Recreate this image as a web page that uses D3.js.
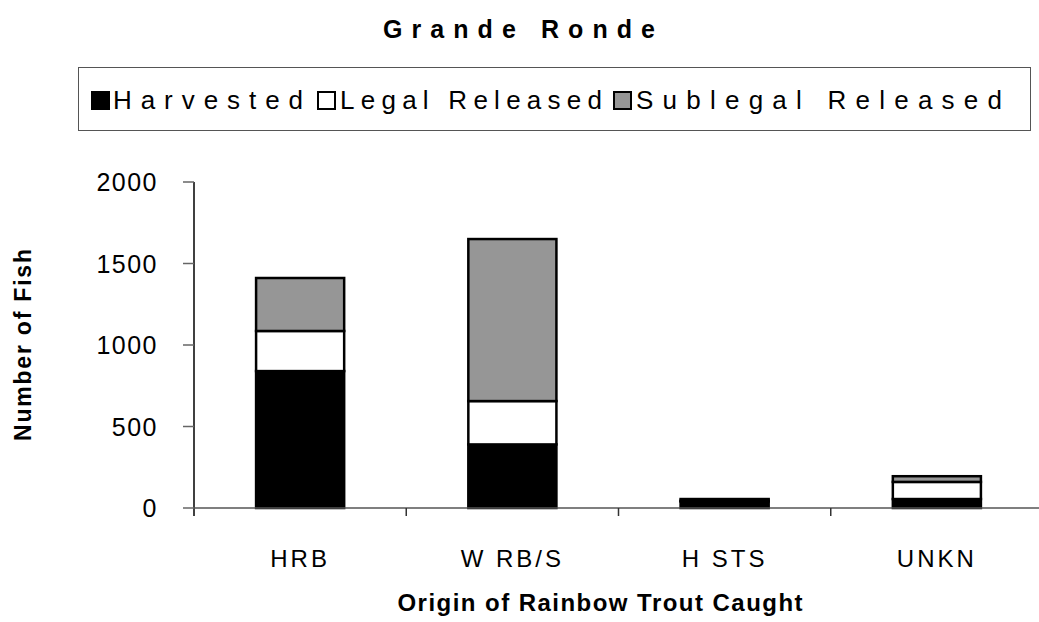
<!DOCTYPE html>
<html>
<head>
<meta charset="utf-8">
<script src="https://cdn.jsdelivr.net/npm/d3@7"></script>
<style>
  body { margin: 0; background: #fff; }
  text { font-family: "Liberation Sans", Arial, sans-serif; }
</style>
</head>
<body>
<div id="chart"></div>
<script>
// values
const categories = ["HRB", "W RB/S", "H STS", "UNKN"];
const harvested = [840, 390, 40, 55];
const legalReleased = [246, 266, 5, 105];
const sublegalReleased = [325, 994, 10, 35];
const seriesNames = ["Harvested", "Legal Released", "Sublegal Released"];
const seriesColors = ["#000000", "#ffffff", "#969696"];
const yTicks = [0, 500, 1000, 1500, 2000];

const width = 1039, height = 622;
const svg = d3.select("#chart").append("svg")
    .attr("width", width)
    .attr("height", height);

// plot area
const plotLeft = 194, plotRight = 1043, plotTop = 182, plotBottom = 508;

const x = d3.scaleBand()
    .domain(categories)
    .range([plotLeft, plotRight])
    .paddingInner(0.585)
    .paddingOuter(0.2925);
const band = d3.scaleBand().domain(categories).range([plotLeft, plotRight]);

const y = d3.scaleLinear().domain([0, 2000]).range([plotBottom, plotTop]);

// stack the series
const rows = categories.map((c, i) => ({
    cat: c,
    Harvested: harvested[i],
    "Legal Released": legalReleased[i],
    "Sublegal Released": sublegalReleased[i]
}));
const stacked = d3.stack().keys(seriesNames)(rows);

// title
svg.append("text")
    .attr("x", 519).attr("y", 38)
    .attr("text-anchor", "middle")
    .attr("font-size", 25).attr("font-weight", "bold")
    .attr("textLength", 272).attr("lengthAdjust", "spacing")
    .text("Grande Ronde");

// legend
const legend = svg.append("g");
legend.append("rect")
    .attr("x", 78.5).attr("y", 67.5)
    .attr("width", 952).attr("height", 63)
    .attr("fill", "#fff").attr("stroke", "#555").attr("stroke-width", 1);
const legendItems = [
    { x: 92, tx: 113, len: 190 },
    { x: 318, tx: 340, len: 262 },
    { x: 614, tx: 636, len: 366 }
];
legendItems.forEach((d, i) => {
    legend.append("rect")
        .attr("x", d.x).attr("y", 92)
        .attr("width", 17).attr("height", 17)
        .attr("fill", seriesColors[i]).attr("stroke", "#000").attr("stroke-width", 2);
    legend.append("text")
        .attr("x", d.tx).attr("y", 109)
        .attr("font-size", 26)
        .attr("textLength", d.len).attr("lengthAdjust", "spacing")
        .text(seriesNames[i]);
});

// y axis
const yAxis = svg.append("g");
yAxis.append("line")
    .attr("x1", plotLeft).attr("x2", plotLeft)
    .attr("y1", plotTop).attr("y2", plotBottom + 8)
    .attr("stroke", "#000").attr("stroke-width", 1.5);
yAxis.selectAll(".ytick").data(yTicks).enter().append("line")
    .attr("x1", plotLeft - 11).attr("x2", plotLeft)
    .attr("y1", d => y(d)).attr("y2", d => y(d))
    .attr("stroke", "#666").attr("stroke-width", 1.5);
yAxis.selectAll(".ylab").data(yTicks).enter().append("text")
    .attr("x", 158).attr("y", d => y(d) + 9)
    .attr("text-anchor", "end")
    .attr("font-size", 25)
    .attr("letter-spacing", 1.5)
    .text(d => String(d));

// bars
svg.append("g").selectAll("g")
    .data(stacked).enter().append("g")
    .attr("fill", (d, i) => seriesColors[i])
    .selectAll("rect")
    .data(d => d).enter().append("rect")
    .attr("x", d => x(d.data.cat))
    .attr("y", d => y(d[1]))
    .attr("width", x.bandwidth())
    .attr("height", d => y(d[0]) - y(d[1]))
    .attr("stroke", "#000")
    .attr("stroke-width", 2.5);

// x axis
const xAxis = svg.append("g");
xAxis.append("line")
    .attr("x1", plotLeft).attr("x2", plotRight)
    .attr("y1", plotBottom).attr("y2", plotBottom)
    .attr("stroke", "#555").attr("stroke-width", 1.5);
xAxis.selectAll(".xtick").data(categories.slice(1)).enter().append("line")
    .attr("x1", d => band(d)).attr("x2", d => band(d))
    .attr("y1", plotBottom).attr("y2", plotBottom + 8)
    .attr("stroke", "#333").attr("stroke-width", 1.5);
xAxis.selectAll(".xlab").data(categories).enter().append("text")
    .attr("x", d => x(d) + x.bandwidth() / 2)
    .attr("y", 567)
    .attr("text-anchor", "middle")
    .attr("font-size", 24)
    .attr("letter-spacing", 3)
    .text(d => d);

// axis titles
svg.append("text")
    .attr("x", 600).attr("y", 611)
    .attr("text-anchor", "middle")
    .attr("font-size", 24).attr("font-weight", "bold")
    .attr("textLength", 405).attr("lengthAdjust", "spacing")
    .text("Origin of Rainbow Trout Caught");

svg.append("text")
    .attr("transform", "translate(31,345) rotate(-90)")
    .attr("text-anchor", "middle")
    .attr("font-size", 23).attr("font-weight", "bold")
    .attr("textLength", 192).attr("lengthAdjust", "spacing")
    .text("Number of Fish");
</script>
</body>
</html>
